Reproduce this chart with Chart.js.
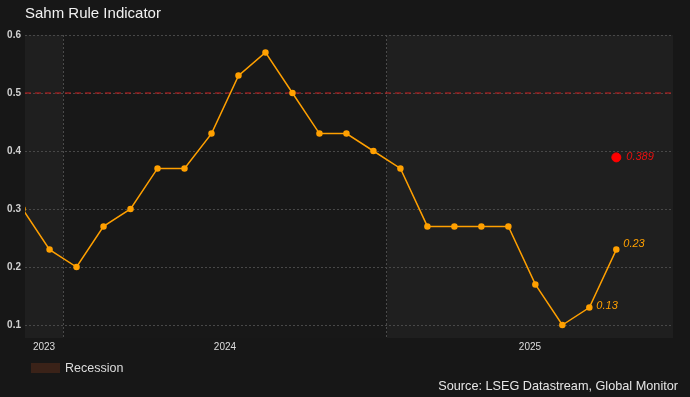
<!DOCTYPE html>
<html>
<head>
<meta charset="utf-8">
<script src="https://cdn.jsdelivr.net/npm/chart.js@4/dist/chart.umd.min.js"></script>
<style>
  html, body { margin: 0; padding: 0; background: #171717; }
  #wrap { width: 690px; height: 397px; position: relative; }
</style>
</head>
<body>
<div id="wrap"><canvas id="c"></canvas></div>
<script>
// ---- data ----
const months = ['2023-11','2023-12','2024-01','2024-02','2024-03','2024-04','2024-05','2024-06',
  '2024-07','2024-08','2024-09','2024-10','2024-11','2024-12','2025-01','2025-02','2025-03',
  '2025-04','2025-05','2025-06','2025-07','2025-08','2025-09'];
const sahmValues = [0.30,0.23,0.20,0.27,0.30,0.37,0.37,0.43,0.53,0.57,0.50,0.43,0.43,0.40,
  0.37,0.27,0.27,0.27,0.27,0.17,0.10,0.13,0.23];
const highlightMonth = '2025-09';
const highlightValue = 0.389;
const thresholdValue = 0.5;
const yearLabels = ['2023','2024','2025'];
const yTicks = [0.1,0.2,0.3,0.4,0.5,0.6];
const labeledPoints = ['2025-08','2025-09'];
const titleText = 'Sahm Rule Indicator';
const legendText = 'Recession';
const sourceText = 'Source: LSEG Datastream, Global Monitor';

// x as months since 2024-01-01 (mid-month points)
function mIdx(s){ const [y,m]=s.split('-').map(Number); return (y-2024)*12 + (m-1) + 0.5; }
const xMin = -1.41, xMax = 22.6;
const yearBounds = [0, 12];

const lineData = months.map((m,i)=>({x:mIdx(m), y:sahmValues[i]}));
const redData = [{x:mIdx(highlightMonth), y:highlightValue}];
const thresholdData = [{x:xMin, y:thresholdValue}, {x:xMax, y:thresholdValue}];

const ORANGE = '#ffa000';

const bgPlugin = {
  id:'bg',
  beforeDraw(chart){
    const {ctx, chartArea:a, scales:{x}} = chart;
    ctx.save();
    ctx.fillStyle = '#171717';
    ctx.fillRect(0,0,chart.width,chart.height);
    const edges = [xMin, ...yearBounds, xMax];
    for (let i=0;i<edges.length-1;i++){
      const x0 = x.getPixelForValue(edges[i]), x1 = x.getPixelForValue(edges[i+1]);
      ctx.fillStyle = (i%2===0) ? '#1f1f1f' : '#181818';
      ctx.fillRect(x0, a.top, x1-x0, a.bottom-a.top);
    }
    ctx.fillStyle = '#f2f2f2';
    ctx.font = '15px "Liberation Sans", Arial, sans-serif';
    ctx.textBaseline = 'middle';
    ctx.textAlign = 'left';
    ctx.fillText(titleText, 25, 14);
    ctx.fillStyle = '#3a2218';
    ctx.fillRect(31, 363, 29, 10);
    ctx.fillStyle = '#dcdcdc';
    ctx.font = '12.5px "Liberation Sans", Arial, sans-serif';
    ctx.fillText(legendText, 65, 368.5);
    ctx.textAlign = 'right';
    ctx.fillStyle = '#e6e6e6';
    ctx.font = '12.7px "Liberation Sans", Arial, sans-serif';
    ctx.fillText(sourceText, 678, 386.5);
    ctx.restore();
  },
  afterDatasetsDraw(chart){
    const {ctx, scales:{x,y}} = chart;
    ctx.save();
    ctx.font = 'italic 11px "Liberation Sans", Arial, sans-serif';
    ctx.textBaseline = 'middle';
    ctx.textAlign = 'left';
    labeledPoints.forEach((m, k)=>{
      const i = months.indexOf(m);
      const px = x.getPixelForValue(mIdx(m)), py = y.getPixelForValue(sahmValues[i]);
      ctx.fillStyle = ORANGE;
      const dy = (k === labeledPoints.length-1) ? -6 : -2;
      ctx.fillText(sahmValues[i].toFixed(2), px + 7, py + dy);
    });
    const rx = x.getPixelForValue(mIdx(highlightMonth)), ry = y.getPixelForValue(highlightValue);
    ctx.fillStyle = '#e81010';
    ctx.fillText(highlightValue.toFixed(3), rx + 10, ry);
    ctx.restore();
  }
};

new Chart(document.getElementById('c'), {
  type:'line',
  data:{
    datasets:[
      { label:'Sahm', data:lineData, borderColor:ORANGE, backgroundColor:ORANGE,
        borderWidth:1.5, pointRadius:2.5, pointHoverRadius:2.5, tension:0, clip:0, order:1 },
      { label:'Latest', data:redData, showLine:false, borderColor:'#ff0000',
        backgroundColor:'#ff0000', pointRadius:4.5, pointHoverRadius:4.5, order:0 },
      { label:'Threshold', data:thresholdData, borderColor:'#c81e1e', borderWidth:1,
        borderDash:[6,4], pointRadius:0, pointHoverRadius:0, tension:0, order:2 }
    ]
  },
  plugins:[bgPlugin],
  options:{
    responsive:true, maintainAspectRatio:false, animation:false,
    events:[],
    layout:{ padding:{ left:0, right:17, top:35, bottom:45 } },
    plugins:{ legend:{display:false}, title:{display:false}, tooltip:{enabled:false} },
    scales:{
      x:{
        type:'linear', min:xMin, max:xMax,
        afterFit(s){ s.height = 14; },
        afterBuildTicks(s){
          s.ticks = [ {value:(xMin+yearBounds[0])/2}, {value:yearBounds[0]},
                      {value:(yearBounds[0]+yearBounds[1])/2}, {value:yearBounds[1]},
                      {value:(yearBounds[1]+xMax)/2} ];
        },
        border:{display:false, dash:[2,2]},
        grid:{
          drawTicks:false,
          color:(c)=> (c.tick && yearBounds.includes(c.tick.value)) ? '#4a4a4a' : 'rgba(0,0,0,0)',
          lineWidth:1,
        },
        ticks:{
          padding:3, maxRotation:0, autoSkip:false,
          color:'#dddddd', font:{family:'"Liberation Sans", Arial, sans-serif', size:10},
          callback:(v, i)=> (i%2===0) ? yearLabels[i/2] : ''
        }
      },
      y:{
        min:0.0776, max:0.6,
        afterFit(s){ s.width = 25; },
        afterBuildTicks(s){ s.ticks = yTicks.map(v=>({value:v})); },
        border:{display:false, dash:[2,2]},
        grid:{ drawTicks:false, color:'#484848', lineWidth:1 },
        ticks:{
          padding:4, color:'#d0d0d0',
          font:{family:'"Liberation Sans", Arial, sans-serif', size:10, weight:'bold'},
          callback:(v)=> Number(v).toFixed(1)
        }
      }
    }
  }
});
</script>
</body>
</html>
